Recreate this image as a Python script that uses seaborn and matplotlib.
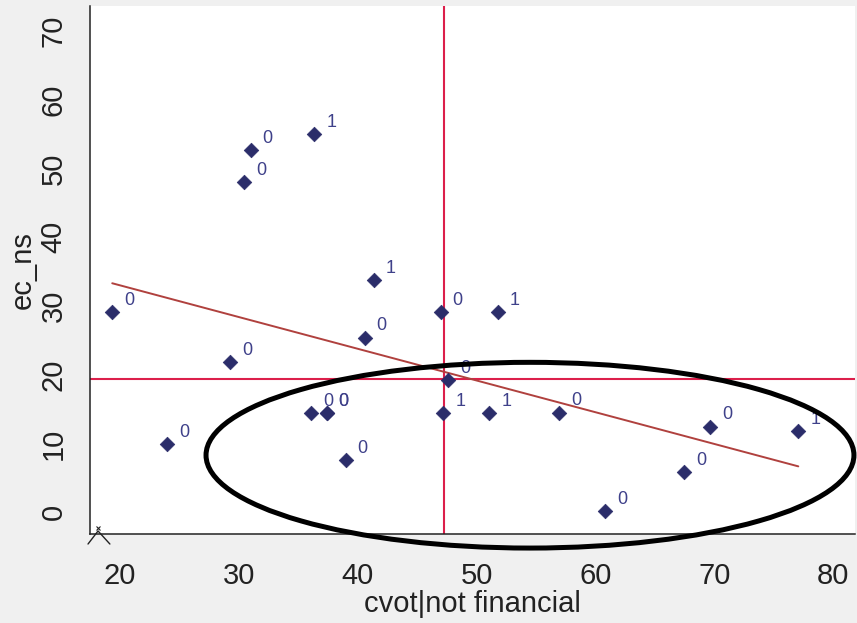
import numpy as np
import pandas as pd
import matplotlib
matplotlib.use("Agg")
import matplotlib.pyplot as plt
from matplotlib.patches import Ellipse
from matplotlib.lines import Line2D
import seaborn as sns

# Observations: control rights (not financial) vs. ec_ns, with a 0/1 flag per firm
cvot = [19.35, 23.98, 29.25, 30.46, 31.0, 36.36, 36.1, 37.4, 37.4, 39.0, 40.6,
        41.37, 46.98, 47.6, 47.2, 51.07, 51.8, 56.93, 60.82, 67.47, 69.63, 77.06]
ec_ns = [29.1, 9.9, 21.8, 48.0, 52.6, 55.0, 14.4, 14.4, 14.4, 7.6, 25.4,
         33.8, 29.1, 19.24, 14.4, 14.4, 29.1, 14.5, 0.19, 5.8, 12.45, 11.8]
flag = [0, 0, 0, 0, 0, 1, 0, 0, 0, 0, 0,
        1, 0, 0, 1, 1, 1, 0, 0, 0, 0, 1]

# Reference levels (crosshair)
cvot_ref = 47.27
ec_ref = 19.35

x_ticks = [20, 30, 40, 50, 60, 70, 80]
y_ticks = [0, 10, 20, 30, 40, 50, 60, 70]

# Highlighted region (center x, center y, width, height) in data units
hl_center = (54.49, 8.3)
hl_width = 54.5
hl_height = 27.0

df = pd.DataFrame({"cvot": cvot, "ec_ns": ec_ns, "flag": flag})

sns.set_style("white")
fam = ["Liberation Sans Narrow", "Liberation Sans", "DejaVu Sans"]
plt.rcParams["font.family"] = fam

fig = plt.figure(figsize=(8.57, 6.23), dpi=100, facecolor="#f0f0f0")
ax = fig.add_axes([0.10502, 0.14237, 0.89265, 0.84799])
ax.set_facecolor("white")

ax.axvline(cvot_ref, color="#dc1f4b", lw=1.5, zorder=1)
ax.axhline(ec_ref, color="#dc1f4b", lw=1.5, zorder=1)

sns.regplot(data=df, x="cvot", y="ec_ns", scatter=False, ci=None, truncate=True,
            ax=ax, line_kws=dict(color="#b0413e", lw=1.4, zorder=2))

sns.scatterplot(data=df, x="cvot", y="ec_ns", marker="D", s=55,
                color="#2b2d6a", edgecolor="#2b2d6a", linewidth=0.5,
                ax=ax, zorder=3, legend=False)

for xv, yv, g in zip(df["cvot"], df["ec_ns"], df["flag"]):
    ax.annotate(str(g), (xv, yv), xytext=(12.2, 8.4), textcoords="offset points",
                ha="center", va="center", fontsize=13, color="#3f418a",
                family=fam, zorder=4)

ax.add_patch(Ellipse(hl_center, hl_width, hl_height, fill=False, ec="black",
                     lw=3.6, clip_on=False, zorder=6))

ax.set_xlim(17.48, 81.83)
ax.set_ylim(-3.2, 73.6)
ax.set_xticks(x_ticks)
ax.set_yticks(y_ticks)

for side in ("top", "right"):
    ax.spines[side].set_visible(False)
for side in ("left", "bottom"):
    ax.spines[side].set_color("#222222")
    ax.spines[side].set_linewidth(1.1)

ax.tick_params(direction="out", length=10, width=1.1, colors="#222222",
               labelsize=21)
ax.tick_params(axis="x", pad=10)
ax.tick_params(axis="y", pad=6, labelrotation=90)
plt.setp(ax.get_yticklabels(), va="center")

ax.set_xlabel("cvot|not financial", fontsize=21, color="#222222", labelpad=0)
ax.set_ylabel("ec_ns", fontsize=21, color="#222222", labelpad=2)

# small corner glyph at the origin
ax.add_line(Line2D([-0.0026, 0.0105, 0.026], [-0.0184, 0.0063, -0.0184],
                   transform=ax.transAxes, color="#222222", lw=1.0,
                   clip_on=False))
ax.plot([0.0105], [0.011], marker="x", ms=3, mew=0.8, color="#222222",
        transform=ax.transAxes, clip_on=False)

fig.savefig("out.png", dpi=100, facecolor=fig.get_facecolor())
